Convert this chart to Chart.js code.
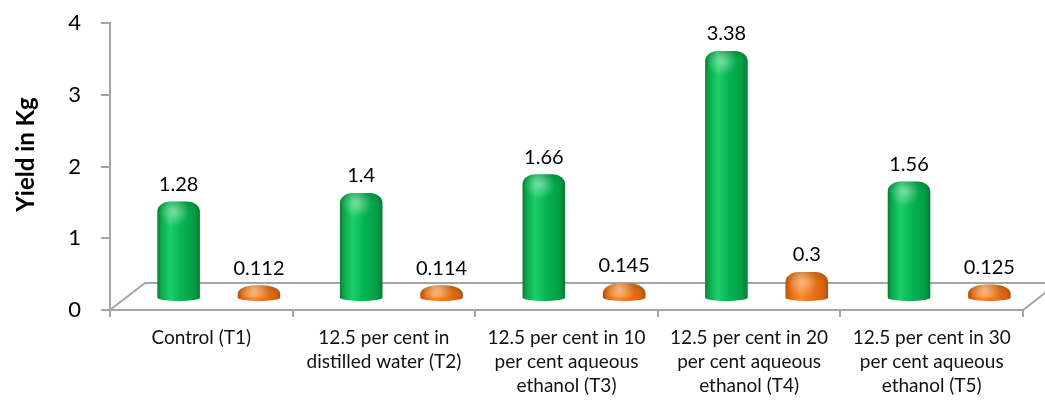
<!DOCTYPE html>
<html>
<head>
<meta charset="utf-8">
<title>Yield in Kg</title>
<script src="https://cdn.jsdelivr.net/npm/chart.js@4.4.1/dist/chart.umd.min.js"></script>
<style>
  html, body { margin: 0; padding: 0; background: #ffffff; }
  #wrap { width: 1045px; height: 400px; position: relative; }
</style>
</head>
<body>
<div id="wrap"><canvas id="chart" width="1045" height="400"></canvas></div>
<script>
// Treatments (multi-line category labels)
const categories = [
  ['Control (T1)'],
  ['12.5 per cent in', 'distilled water (T2)'],
  ['12.5 per cent in 10', 'per cent aqueous', 'ethanol (T3)'],
  ['12.5 per cent in 20', 'per cent aqueous', 'ethanol (T4)'],
  ['12.5 per cent in 30', 'per cent aqueous', 'ethanol (T5)']
];
// Yield in kg for the two series
const greenSeries = [1.28, 1.4, 1.66, 3.38, 1.56];
const orangeSeries = [0.112, 0.114, 0.145, 0.3, 0.125];
// Value axis ticks and title
const yTicks = [0, 1, 2, 3, 4];
const yTitle = 'Yield in Kg';

const FONT = 'Lato';
const AXIS = '#a6a6a6';
const DEPTH_X = 35;   // floor skew to the right
const DEPTH_Y = 27;   // floor depth upwards

const palettes = {
  green: [[0, '#067a33'], [0.08, '#0aa54a'], [0.3, '#1dcf69'], [0.55, '#05b552'], [0.85, '#04a047'], [1, '#067d36']],
  orange: [[0, '#b3500b'], [0.1, '#de6910'], [0.35, '#f98a2c'], [0.6, '#ee7519'], [0.9, '#d66110'], [1, '#b04f0c']]
};

function drawCylinder(ctx, cx, w, top, baseC, pal) {
  const x0 = cx - w / 2, x1 = cx + w / 2, ry = 3.8;
  const h = baseC - top;
  const rv = h < 20 ? h * 0.7 : Math.min(10, h * 0.62);
  const rh = h < 20 ? w * 0.42 : Math.min(13, w * 0.3);
  ctx.beginPath();
  ctx.moveTo(x0, baseC);
  ctx.lineTo(x0, top + rv);
  ctx.bezierCurveTo(x0, top + rv * 0.45, x0 + rh * 0.45, top, x0 + rh, top);
  ctx.lineTo(x1 - rh, top);
  ctx.bezierCurveTo(x1 - rh * 0.45, top, x1, top + rv * 0.45, x1, top + rv);
  ctx.lineTo(x1, baseC);
  ctx.ellipse(cx, baseC, w / 2, ry, 0, 0, Math.PI);
  ctx.closePath();
  const g = ctx.createLinearGradient(x0, 0, x1, 0);
  pal.forEach(([o, c]) => g.addColorStop(o, c));
  ctx.fillStyle = g;
  ctx.fill();

  ctx.save();
  ctx.clip();
  // darker rim along the rounded top
  const vg = ctx.createLinearGradient(0, top, 0, top + rv);
  vg.addColorStop(0, 'rgba(0,40,10,0.18)');
  vg.addColorStop(1, 'rgba(0,40,10,0)');
  ctx.fillStyle = vg;
  ctx.fillRect(x0, top, w, rv);
  // specular spot on the cap
  const hx = x0 + w * 0.4, hy = top + Math.min(10, h * 0.45);
  const rg = ctx.createRadialGradient(hx, hy, 0, hx, hy, 15);
  rg.addColorStop(0, 'rgba(255,255,255,0.42)');
  rg.addColorStop(1, 'rgba(255,255,255,0)');
  ctx.fillStyle = rg;
  ctx.fillRect(x0, top, w, Math.min(h, 30));
  ctx.restore();
}

const floorPlugin = {
  id: 'floor',
  beforeDatasetsDraw(chart) {
    const { ctx, chartArea: { left, right, bottom } } = chart;
    ctx.save();
    ctx.strokeStyle = AXIS;
    ctx.lineWidth = 2;
    ctx.beginPath();
    ctx.moveTo(left, bottom);
    ctx.lineTo(left + DEPTH_X, bottom - DEPTH_Y);
    ctx.lineTo(right + DEPTH_X, bottom - DEPTH_Y);
    ctx.lineTo(right, bottom);
    ctx.stroke();
    ctx.restore();
  }
};

const cylinderPlugin = {
  id: 'cylinders',
  afterDatasetsDraw(chart) {
    const ctx = chart.ctx;
    ctx.save();
    chart.data.datasets.forEach((ds, di) => {
      const meta = chart.getDatasetMeta(di);
      meta.data.forEach((el, i) => {
        const { x, y, base, width } = el.getProps(['x', 'y', 'base', 'width'], true);
        const cx = x + DEPTH_X / 2;
        drawCylinder(ctx, cx, width, y - 4, base, palettes[ds.palette]);
        ctx.fillStyle = '#000000';
        ctx.font = '20px ' + FONT;
        ctx.textAlign = 'center';
        ctx.textBaseline = 'middle';
        ctx.fillText(String(ds.data[i]), cx, y - 21);
      });
    });
    ctx.restore();
  }
};

// rotated value-axis title, centred on the wall above the floor
const axisTitlePlugin = {
  id: 'axisTitle',
  afterDraw(chart) {
    const { ctx, chartArea: { top, bottom } } = chart;
    ctx.save();
    ctx.translate(26, (top + bottom) / 2 - 12);
    ctx.rotate(-Math.PI / 2);
    ctx.fillStyle = '#000000';
    ctx.font = 'bold 24px ' + FONT;
    ctx.textAlign = 'center';
    ctx.textBaseline = 'middle';
    ctx.fillText(yTitle, 0, 0);
    ctx.restore();
  }
};

new Chart(document.getElementById('chart'), {
  type: 'bar',
  data: {
    labels: categories,
    datasets: [
      { data: greenSeries, palette: 'green', yAxisID: 'yb', backgroundColor: 'rgba(0,0,0,0)', borderWidth: 0, categoryPercentage: 0.88, barPercentage: 0.53 },
      { data: orangeSeries, palette: 'orange', yAxisID: 'yb', backgroundColor: 'rgba(0,0,0,0)', borderWidth: 0, categoryPercentage: 0.88, barPercentage: 0.53 }
    ]
  },
  options: {
    responsive: false,
    animation: false,
    events: [],
    layout: { padding: { top: 23, right: 22, left: 0, bottom: 0 } },
    plugins: { legend: { display: false }, tooltip: { enabled: false } },
    scales: {
      x: {
        grid: { display: true, drawOnChartArea: false, offset: true, color: AXIS, lineWidth: 2, tickLength: 7 },
        border: { color: AXIS, width: 2 },
        ticks: { font: { family: FONT, size: 19, lineHeight: 1.26 }, color: '#111111', padding: 9, maxRotation: 0, autoSkip: false },
        afterFit: (s) => { s.height = 90; }
      },
      y: {
        min: 0,
        max: 4,
        afterBuildTicks: (s) => { s.ticks = yTicks.map(v => ({ value: v })); },
        grid: { display: true, drawOnChartArea: false, color: AXIS, lineWidth: 2, tickLength: 9 },
        border: { color: AXIS, width: 2 },
        ticks: { font: { family: FONT, size: 22 }, color: '#000000', padding: 20 },
        title: { display: false },
        afterFit: (s) => { s.width = 110; s.paddingTop = 0; s.paddingBottom = 0; }
      },
      // bar depth plane sits slightly behind the front edge of the floor
      yb: { display: false, min: -0.1756, max: 3.8244 }
    }
  },
  plugins: [floorPlugin, cylinderPlugin, axisTitlePlugin]
});
</script>
</body>
</html>
